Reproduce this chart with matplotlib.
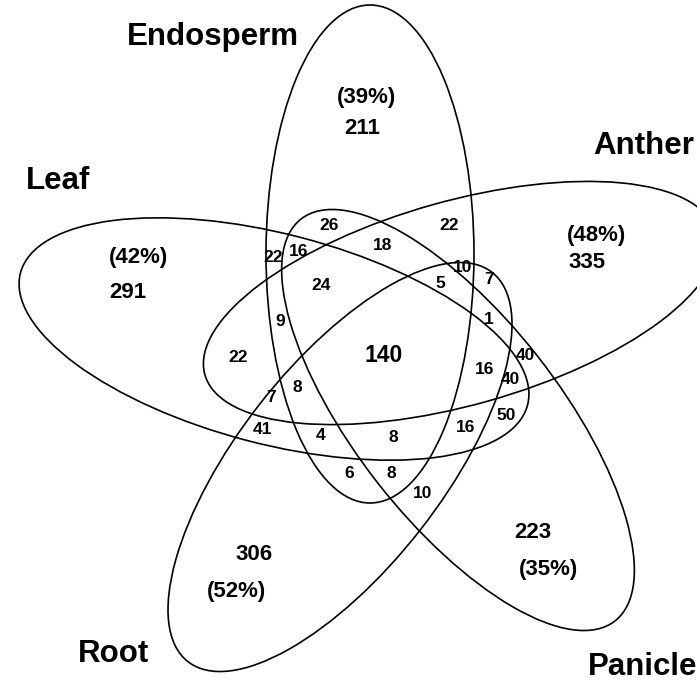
import matplotlib
matplotlib.use("Agg")
import matplotlib.pyplot as plt
from matplotlib.patches import Ellipse

plt.rcParams["font.family"] = ["Liberation Sans", "DejaVu Sans"]
plt.rcParams["font.weight"] = "bold"

# the five tissues and the genes found only in each
sets = ["Endosperm", "Anther", "Panicle", "Root", "Leaf"]
unique_counts = [211, 335, 223, 306, 291]
unique_pct = ["(39%)", "(48%)", "(35%)", "(52%)", "(42%)"]

# shared genes, one value per overlap region
overlap_counts = [140, 26, 18, 22, 22, 16, 24, 10, 7, 5, 1, 9, 22, 8, 7,
                  16, 40, 40, 50, 41, 4, 8, 16, 6, 8, 10]

# layout (pixels, y down): ellipse centre, semi axes, angle
shapes = [(370, 254, 249, 104, 90),
          (460, 303, 265, 102, -15.7),
          (458, 420, 255, 102, 52),
          (340, 467, 247, 102, -52),
          (274, 339, 262, 105, 14.6)]
name_pos = [(213, 37), (644, 146), (643, 667), (113, 654), (58, 181)]
count_pos = [(362, 128), (587, 262), (533, 533), (254, 554), (128, 293)]
pct_pos = [(367, 97), (596, 236), (549, 570), (236, 592), (139, 258)]
overlap_pos = [(384, 355), (329, 226), (383, 246), (449, 226), (273, 257),
               (299, 252), (321, 286), (463, 267), (489, 279), (440, 283),
               (489, 319), (280, 321), (238, 357), (297, 388), (271, 398),
               (485, 370), (525, 356), (510, 380), (506, 416), (262, 429),
               (321, 435), (393, 438), (466, 427), (349, 474), (391, 473),
               (423, 493)]

fig = plt.figure(figsize=(6.97, 6.83), dpi=100)
ax = fig.add_axes([0, 0, 1, 1])
ax.set_xlim(0, 697)
ax.set_ylim(683, 0)
ax.axis("off")

for (cx, cy, a, b, ang) in shapes:
    ax.add_patch(Ellipse((cx, cy), 2 * a, 2 * b, angle=ang, fill=False,
                         edgecolor="black", linewidth=1.2))

for name, (x, y) in zip(sets, name_pos):
    ax.text(x, y, name, fontsize=22.5, ha="center", va="center")

for n, (x, y) in zip(unique_counts, count_pos):
    ax.text(x, y, str(n), fontsize=16, ha="center", va="center")
for p, (x, y) in zip(unique_pct, pct_pos):
    ax.text(x, y, p, fontsize=16, ha="center", va="center")

for i, (n, (x, y)) in enumerate(zip(overlap_counts, overlap_pos)):
    size = 16.5 if i == 0 else 12.5
    ax.text(x, y, str(n), fontsize=size, ha="center", va="center")

fig.savefig("out.png", dpi=100)
